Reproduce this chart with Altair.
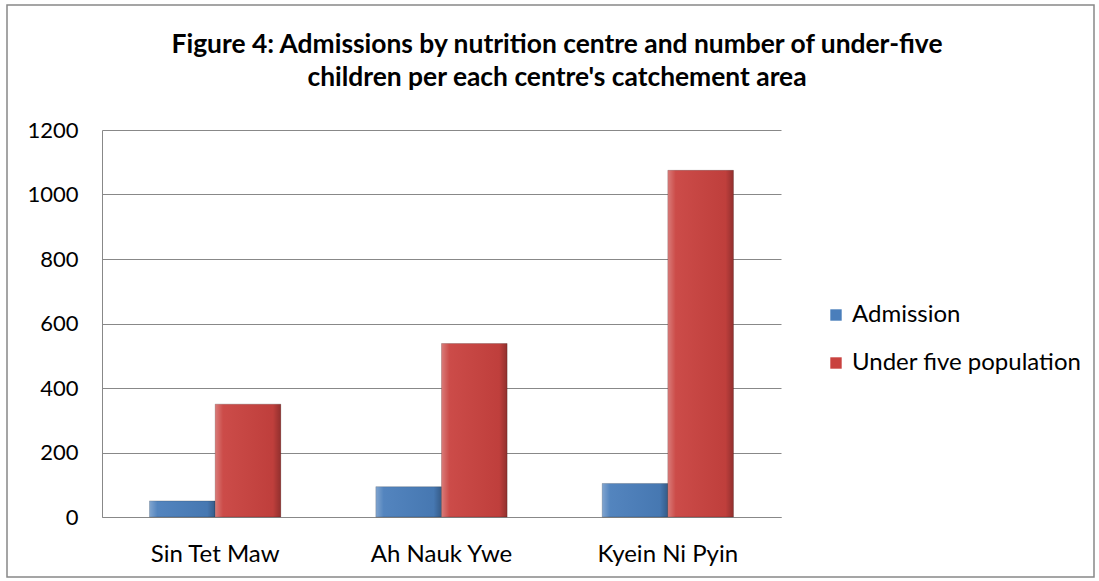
import altair as alt
import pandas as pd

centres = ["Sin Tet Maw", "Ah Nauk Ywe", "Kyein Ni Pyin"]
series_names = ["Admission", "Under five population"]
admission = [50, 94, 104]
under_five = [350, 538, 1075]
series_colors = ["#4A7EBB", "#C9423F"]
title_lines = ["Figure 4: Admissions by nutrition centre and number of under-five",
               "children per each centre's catchement area"]

rows = []
for c, a, u in zip(centres, admission, under_five):
    rows.append({"centre": c, "series": series_names[0], "value": a})
    rows.append({"centre": c, "series": series_names[1], "value": u})
df = pd.DataFrame(rows)

FONT = "Lato"

x_enc = alt.X("centre:N", sort=centres, title=None,
              scale=alt.Scale(paddingInner=0.42, paddingOuter=0.21),
              axis=alt.Axis(labelAngle=0, labelFontSize=24, labelPadding=25,
                            labelColor="#000", domainColor="#888", ticks=False,
                            grid=False, labelFont=FONT, labelLimit=300))
xo_enc = alt.XOffset("series:N", sort=series_names)
y_enc = alt.Y("value:Q", title=None,
              scale=alt.Scale(domain=[0, 1200]),
              axis=alt.Axis(values=[0, 200, 400, 600, 800, 1000, 1200], format="d",
                            labelFontSize=22, labelPadding=24, labelColor="#000",
                            grid=True, gridColor="#888", domainColor="#888",
                            ticks=False, labelFont=FONT))

bars = alt.Chart(df).mark_bar(stroke="#00000030", strokeWidth=1).encode(
    x=x_enc, xOffset=xo_enc, y=y_enc,
    color=alt.Color("series:N", sort=series_names,
                    scale=alt.Scale(domain=series_names, range=series_colors),
                    legend=alt.Legend(title=None, orient="none", legendX=722,
                                      legendY=173, symbolType="square",
                                      symbolSize=130, labelFontSize=24,
                                      labelFont=FONT, rowPadding=24,
                                      symbolStrokeWidth=0, labelColor="#000",
                                      labelOffset=4, labelLimit=400)),
)

shade = alt.Chart(df).mark_bar(
    color=alt.Gradient(
        gradient="linear", x1=0, x2=1, y1=0, y2=0,
        stops=[alt.GradientStop(offset=0, color="rgba(255,255,255,0.30)"),
               alt.GradientStop(offset=0.12, color="rgba(255,255,255,0.05)"),
               alt.GradientStop(offset=0.88, color="rgba(0,0,0,0.05)"),
               alt.GradientStop(offset=1, color="rgba(0,0,0,0.28)")])
).encode(x=x_enc, xOffset=xo_enc, y=y_enc)

border = alt.Chart(pd.DataFrame({"k": [0]})).mark_rect(
    fill=None, stroke="#888", strokeWidth=1.5
).encode(x=alt.value(-95), x2=alt.value(992), y=alt.value(-125), y2=alt.value(447))

title1 = alt.Chart(pd.DataFrame({"t": [title_lines[0]]})).mark_text(
    font=FONT, fontSize=26.4, fontWeight="bold", color="#000", align="center",
    baseline="middle"
).encode(text="t:N", x=alt.value(455), y=alt.value(-85))
title2 = alt.Chart(pd.DataFrame({"t": [title_lines[1]]})).mark_text(
    font=FONT, fontSize=26.4, fontWeight="bold", color="#000", align="center",
    baseline="middle"
).encode(text="t:N", x=alt.value(455), y=alt.value(-52))

chart = alt.layer(border, bars, shade, title1, title2).properties(
    width=679, height=387,
    autosize=alt.AutoSizeParams(type="none"),
    padding={"left": 102, "top": 130, "right": 318, "bottom": 64},
).configure_view(stroke=None)

chart.save("out.html", embed_options={"renderer": "svg", "actions": False})
